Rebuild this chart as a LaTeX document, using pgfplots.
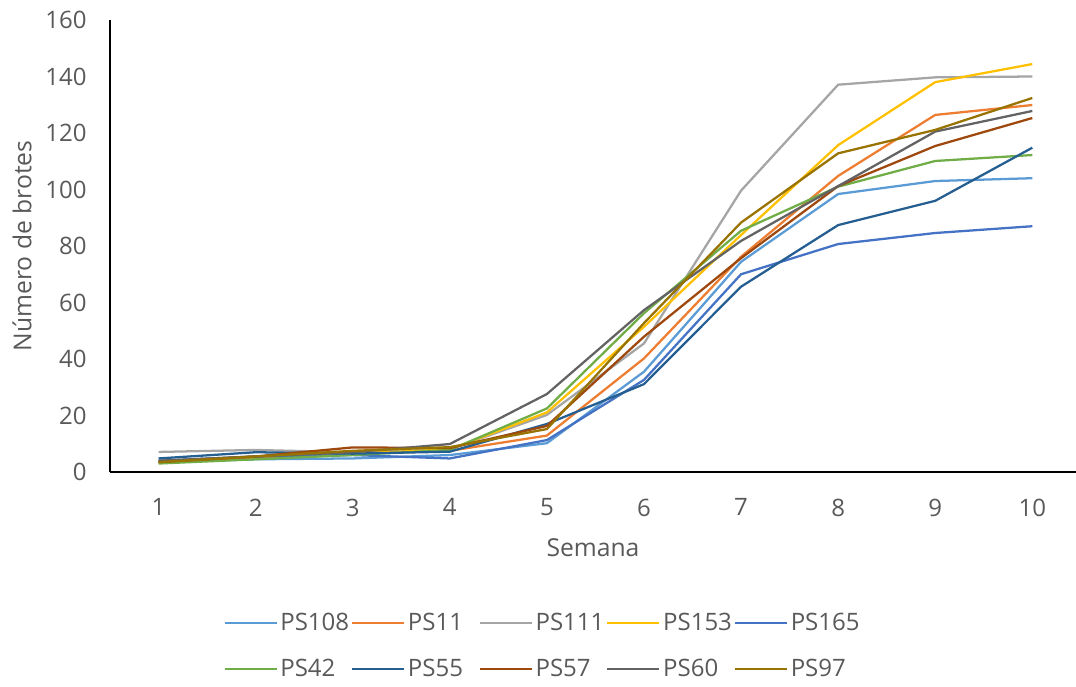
\documentclass[border=0pt]{standalone}
\usepackage{fontspec}
\setmainfont{Open Sans}
\usepackage{pgfplots}
\pgfplotsset{compat=1.18}
\usetikzlibrary{calc}
\definecolor{cA}{HTML}{5B9BD5}
\definecolor{cB}{HTML}{ED7D31}
\definecolor{cC}{HTML}{A5A5A5}
\definecolor{cD}{HTML}{FFC000}
\definecolor{cE}{HTML}{4472C4}
\definecolor{cF}{HTML}{70AD47}
\definecolor{cG}{HTML}{255E91}
\definecolor{cH}{HTML}{9E480E}
\definecolor{cI}{HTML}{636363}
\definecolor{cJ}{HTML}{997300}
\definecolor{txt}{HTML}{595959}
\begin{document}
\begin{tikzpicture}
\begin{axis}[name=ax, scale only axis, width=724.5pt, height=339pt,
  xmin=0.5, xmax=10.45, ymin=0, ymax=160,
  xtick={1,...,10}, ytick={0,20,...,160},
  axis x line=bottom, axis y line=left,
  axis line style={-, black, line width=1pt},
  major tick length=0pt,
  /pgf/number format/assume math mode=true,
  tick label style={font=\fontsize{18}{21}\selectfont, text=txt},
  xticklabel style={yshift=-16.5pt},
  yticklabel style={xshift=-14pt},
  xlabel={Semana}, ylabel={Número de brotes},
  label style={font=\fontsize{18.5}{22}\selectfont, text=txt},
  xlabel style={at={(axis description cs:0.5,-0.168)}, anchor=center},
  ylabel style={at={(axis description cs:-0.091,0.5)}, anchor=center},
  every axis plot/.append style={line width=1.7pt, no markers},
  legend image code/.code={\draw[#1] (0pt,0pt) -- (39pt,0pt);},
  legend style={draw=none, fill=none, legend columns=5,
    at={(axis description cs:0.113,-0.300)}, anchor=north west,
    font=\fontsize{18}{21}\selectfont, text=txt,
    nodes={text width=51pt, align=left, inner sep=2pt},
    /tikz/every even column/.append style={column sep=0pt},
    row sep=16pt},
]
\addplot[cA] coordinates {(1,3.5)(2,4.5)(3,4.8)(4,6)(5,10.2)(6,35.5)(7,74.4)(8,98.4)(9,103)(10,104)};
\addlegendentry{PS108}
\addplot[cB] coordinates {(1,3.5)(2,5)(3,6.5)(4,7.5)(5,12.9)(6,40.2)(7,76.2)(8,104.8)(9,126.4)(10,129.9)};
\addlegendentry{PS11}
\addplot[cC] coordinates {(1,7.1)(2,7.8)(3,7)(4,8)(5,20.2)(6,45.5)(7,99.6)(8,137.1)(9,139.7)(10,140)};
\addlegendentry{PS111}
\addplot[cD] coordinates {(1,3.8)(2,5.5)(3,6.5)(4,8)(5,21.1)(6,51.4)(7,83.9)(8,115.7)(9,138)(10,144.4)};
\addlegendentry{PS153}
\addplot[cE] coordinates {(1,4)(2,5.5)(3,6)(4,4.8)(5,11.3)(6,32.6)(7,70)(8,80.7)(9,84.6)(10,87)};
\addlegendentry{PS165}
\addplot[cF] coordinates {(1,3)(2,4.5)(3,6)(4,7.8)(5,22.5)(6,56.2)(7,85.4)(8,101)(9,110.1)(10,112.2)};
\addlegendentry{PS42}
\addplot[cG] coordinates {(1,4.8)(2,7)(3,6.5)(4,7.2)(5,17)(6,31.1)(7,65.6)(8,87.4)(9,96)(10,114.8)};
\addlegendentry{PS55}
\addplot[cH] coordinates {(1,3.5)(2,5.5)(3,8.7)(4,8.5)(5,16.3)(6,47.9)(7,75.7)(8,101.2)(9,115.4)(10,125.3)};
\addlegendentry{PS57}
\addplot[cI] coordinates {(1,4)(2,5.5)(3,7)(4,9.9)(5,27.6)(6,57.3)(7,81.8)(8,101.2)(9,120.5)(10,127.8)};
\addlegendentry{PS60}
\addplot[cJ] coordinates {(1,3.5)(2,5.5)(3,7.5)(4,8.8)(5,15.2)(6,52.7)(7,88.3)(8,112.8)(9,121.1)(10,132.4)};
\addlegendentry{PS97}
\end{axis}
\pgfresetboundingbox
\path ($(ax.south west)+(-82.5pt,-160.5pt)$) rectangle ($(ax.north east)+(0pt,15pt)$);
\end{tikzpicture}
\end{document}
